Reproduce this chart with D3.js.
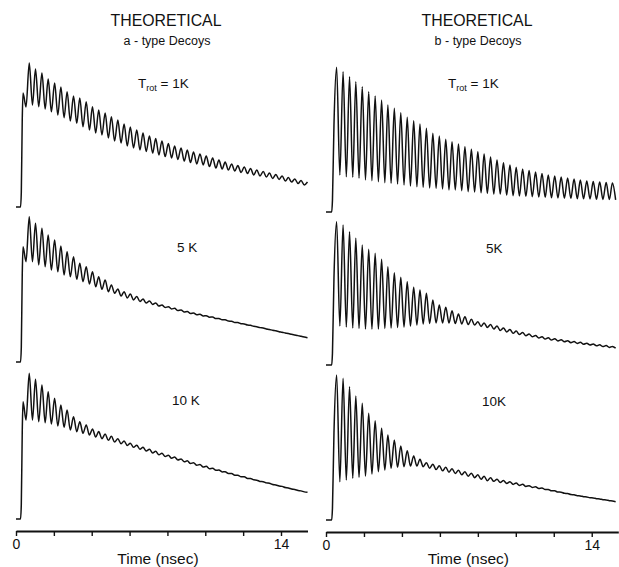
<!DOCTYPE html>
<html>
<head>
<meta charset="utf-8">
<script src="https://cdn.jsdelivr.net/npm/d3@7"></script>
<style>
  body { margin: 0; background: #fff; }
  svg { display: block; }
  text { font-family: "Liberation Sans", Arial, sans-serif; fill: #111; }
</style>
</head>
<body>
<svg id="fig" width="619" height="567"></svg>
<script>
// ---- Time grid of the recurrence maxima / minima (ns) ----
const aPeakT = [0.70,1.03,1.37,1.70,2.04,2.37,2.70,3.04,3.37,3.71,4.04,4.37,4.71,5.04,5.38,5.71,6.04,6.38,6.71,7.05,7.38,7.71,8.05,8.38,8.72,9.05,9.38,9.72,10.05,10.39,10.72,11.05,11.39,11.72,12.06,12.39,12.72,13.06,13.39,13.73,14.06,14.39,14.73,15.06,15.40];
const aDipT  = [0.53,0.87,1.20,1.54,1.87,2.21,2.54,2.87,3.21,3.54,3.88,4.21,4.54,4.88,5.21,5.55,5.88,6.21,6.55,6.88,7.22,7.55,7.88,8.22,8.55,8.89,9.22,9.55,9.89,10.22,10.56,10.89,11.22,11.56,11.89,12.23,12.56,12.89,13.23,13.56,13.90,14.23,14.56,14.90,15.23];
const bPeakT = [0.56,0.90,1.24,1.57,1.91,2.25,2.59,2.93,3.26,3.60,3.94,4.28,4.62,4.95,5.29,5.63,5.97,6.31,6.64,6.98,7.32,7.66,8.00,8.33,8.67,9.01,9.35,9.69,10.02,10.36,10.70,11.04,11.38,11.71,12.05,12.39,12.73,13.07,13.40,13.74,14.08,14.42,14.76,15.09];
const bDipT  = [0.73,1.07,1.41,1.74,2.08,2.42,2.76,3.10,3.43,3.77,4.11,4.45,4.79,5.12,5.46,5.80,6.14,6.48,6.81,7.15,7.49,7.83,8.17,8.50,8.84,9.18,9.52,9.86,10.19,10.53,10.87,11.21,11.55,11.88,12.22,12.56,12.90,13.24,13.57,13.91,14.25,14.59,14.93,15.26];

// ---- Onset (laser excitation rise) ----
const aRiseT = [0, 0.24, 0.28, 0.33, 0.37];
const bRiseT = [0, 0.30, 0.34, 0.42];

// ---- a-type decays: intensity at maxima (hi) and minima (lo) ----
const a1Rise = [0, 0, 10, 60, 78.6];
const a1Hi = [99.3,95.2,92.4,88.3,85.5,82.8,79.5,76.6,75.2,72.6,69.2,66.9,64.8,62.3,60,57.2,55.2,53.1,51,49,47.2,45.5,43.8,42.1,40.7,39.3,37.9,36.6,35.2,33.8,32.4,31,29.7,28.6,27.6,26.6,25.5,24.5,23.4,22.4,21.4,20.3,19.3,18.3,17.2];
const a1Lo = [69,70.3,69.2,67.6,65.7,63.4,61.6,59.3,57.7,55.4,53.1,51,49.7,47.6,45.5,44.1,42.1,40.7,39.3,38.3,37.2,35.9,34.8,33.8,32.8,31.7,30.7,29.7,29,27.9,26.9,26.2,25.5,24.8,23.8,23.1,22.1,21.4,20.7,19.7,19,17.9,17.2,16.2,15.2];

const a2Rise = [0, 0, 10, 60, 79.5];
const a2Hi = [100.2,95.7,92.2,87.6,84.1,80,76.1,72.6,68.1,65.7,62.3,58.8,56.6,53.1,50.3,48.5,46.9,45.2,43.4,42.1,40.7,39.3,38.1,37,35.9,34.8,33.8,32.9,31.95,31.0,30.05,29.1,28.15,27.2,26.25,25.3,24.35,23.4,22.45,21.5,20.55,19.6,18.65,17.7,16.75];
const a2Lo = [69.2,69.2,66.9,65.7,63.4,62.3,60,58.8,57,55.4,53.8,51.9,50.1,48.5,47.4,45.5,44.1,42.8,41.7,40.7,39.7,38.6,37.6,36.6,35.5,34.5,33.4,32.6,31.7,30.9,30.0,29.1,28.2,27.3,26.4,25.5,24.6,23.7,22.8,21.9,20.9,20.0,19.1,18.2,17.2];

const a3Rise = [0, 0, 10, 60, 80.9];
const a3Hi = [100.5,96.3,92.4,87.8,83.2,78.6,75.2,70.6,67.1,64.8,62.1,60.3,58.6,57,55.3,53.8,52.3,50.9,49.5,48.1,46.7,45.4,44,42.7,41.4,40.1,38.8,37.6,36.3,35,33.8,32.6,31.4,30.2,29.1,27.9,26.8,25.7,24.6,23.5,22.5,21.4,20.4,19.4,18.4];
const a3Lo = [68.3,68.3,67.1,66.4,65.5,64.1,63.2,61.4,60.2,59.1,57.9,56.5,55.4,54.3,53.1,51.9,50.7,49.4,48.1,46.9,45.6,44.3,43.1,41.9,40.7,39.4,38.2,37,35.8,34.7,33.6,32.5,31.3,30.2,29.1,28,27,25.9,24.9,23.8,22.8,21.7,20.7,19.7,18.7];

// ---- b-type decays ----
const b1Rise = [0, 0, 8, 60];
const b1Hi = [99.8,96.8,93.3,89.9,86.4,83,80,77.2,73.8,71.5,68.5,65.3,63,60.7,57.7,54.3,52.4,50.1,48.5,46.9,45,43.2,41.6,40,37.9,35.9,34,32.4,30.8,29.7,28.6,27.6,26.6,25.5,24.8,24.1,23.4,22.8,22.1,21.4,21,20.7,20.3,20];
const b1Lo = [25.5,24.3,23.9,23.2,22.1,21.6,20.9,20.2,19.8,19.3,18.6,17.9,17.4,17,16.6,16.3,15.9,15.2,15.2,14.7,14,13.8,13.3,12.9,12.4,12.4,11.7,11.2,11,10.8,10.6,10.3,10.1,9.9,9.7,9.5,9.4,9.2,9.1,9,8.8,8.7,8.6,8.4];

const b2Rise = [0, 0, 8, 60];
const b2Hi = [98.8,96.6,91.9,87.4,82.8,79.8,77,72.9,67.8,63.7,60.5,57.4,53.6,51.7,49.4,44.8,41.4,39.8,37.4,35.2,33.3,31.5,29.9,29,27.9,26.9,25.5,24.5,23.4,22.4,21.4,20.3,19.5,18.8,18.1,17.4,16.8,16.2,15.7,15,14.5,13.9,13.4,12.8];
const b2Lo = [26.9,26.2,25.5,25.2,24.8,24.8,24.8,25.2,25.5,25.9,26.2,26.9,27.6,28.3,28.6,29,29,29,28.6,28.3,27.9,27.6,26.6,25.9,24.8,23.8,22.8,21.9,21,20.2,19.4,18.6,17.9,17.2,16.6,16,15.4,14.9,14.3,13.8,13.2,12.7,12.1,11.6];

const b3Rise = [0, 0, 8, 60];
const b3Hi = [100,97.7,91.9,85.5,80.5,73.6,68.5,63.2,58.6,55.2,51,47.8,44.1,41.9,39.5,38.5,37.4,36.4,35.4,34.3,33.3,32.3,31.2,30.2,29.2,28.1,27.2,26.4,25.5,24.6,23.7,22.9,22.1,21.1,20.1,19.2,18.3,17.4,16.6,15.9,15.2,14.5,13.8,13.1];
const b3Lo = [26.4,27.6,28.8,29.4,30.3,31.7,33.3,34.5,35.7,36.3,36.8,37.2,37.2,36.8,35.7,34.8,33.9,33,32.1,31.2,30.2,29.2,28.1,27.1,26.65,25.85,25.2,24.55,23.85,23.15,22.45,21.8,21.0,20.1,19.25,18.4,17.55,16.75,16.05,15.35,14.7,14.0,13.35,12.65];

// ---- Axis ----
const axisTicks = [0, 2, 4, 6, 8, 10, 12, 14];
const labelledTicks = [0, 14];
const timeMax = 15.4;

// ---- Layout ----
const columns = [
  { title: "THEORETICAL", sub: "a - type Decoys", cx: 166, left: 16, right: 307.5, axisY: 531,
    riseT: aRiseT, peakT: aPeakT, dipT: aDipT },
  { title: "THEORETICAL", sub: "b - type Decoys", cx: 477, left: 326, right: 618.3, axisY: 532,
    riseT: bRiseT, peakT: bPeakT, dipT: bDipT }
];

const panels = [
  { col: 0, base: 207, rise: a1Rise, hi: a1Hi, lo: a1Lo, label: "trot", lx: 138, ly: 88 },
  { col: 0, base: 362, rise: a2Rise, hi: a2Hi, lo: a2Lo, label: "5 K", lx: 177, ly: 252 },
  { col: 0, base: 519, rise: a3Rise, hi: a3Hi, lo: a3Lo, label: "10 K", lx: 172, ly: 405 },
  { col: 1, base: 212, rise: b1Rise, hi: b1Hi, lo: b1Lo, label: "trot", lx: 448, ly: 88 },
  { col: 1, base: 365, rise: b2Rise, hi: b2Hi, lo: b2Lo, label: "5K", lx: 486, ly: 253 },
  { col: 1, base: 520, rise: b3Rise, hi: b3Hi, lo: b3Lo, label: "10K", lx: 482, ly: 406 }
];

const svg = d3.select("#fig");
const panelHeight = 145;

columns.forEach(c => {
  c.x = d3.scaleLinear().domain([0, timeMax]).range([c.left, c.right]);

  svg.append("text").attr("x", c.cx).attr("y", 26)
    .attr("text-anchor", "middle").attr("font-size", 17)
    .attr("textLength", 111).attr("lengthAdjust", "spacingAndGlyphs")
    .text(c.title);
  svg.append("text").attr("x", c.cx + 1).attr("y", 45)
    .attr("text-anchor", "middle").attr("font-size", 12.5)
    .text(c.sub);

  const axis = d3.axisBottom(c.x)
    .tickValues(axisTicks)
    .tickSize(5)
    .tickSizeOuter(0)
    .tickPadding(3)
    .tickFormat(d => labelledTicks.includes(d) ? String(d) : "");
  const g = svg.append("g").attr("transform", `translate(0,${c.axisY})`).call(axis);
  g.select(".domain").attr("stroke", "#111").attr("stroke-width", 2);
  g.selectAll(".tick line").attr("stroke", "#111").attr("stroke-width", 1.4);
  g.selectAll(".tick text").attr("font-size", 14).attr("fill", "#111")
    .attr("font-family", "'Liberation Sans', Arial, sans-serif");

  svg.append("text").attr("x", c.x(7.5)).attr("y", 564)
    .attr("text-anchor", "middle").attr("font-size", 15.5)
    .text("Time (nsec)");
});

const line = d3.line()
  .x(d => d.xs(d.t))
  .y(d => d.ys(d.v))
  .curve(d3.curveMonotoneX);

panels.forEach(p => {
  const c = columns[p.col];
  const y = d3.scaleLinear().domain([0, 100]).range([p.base, p.base - panelHeight]);
  const pts = [];
  c.riseT.forEach((t, i) => pts.push({ t, v: p.rise[i] }));
  c.dipT.forEach((t, i) => pts.push({ t, v: p.lo[i] }));
  c.peakT.forEach((t, i) => pts.push({ t, v: p.hi[i] }));
  pts.sort((a, b) => a.t - b.t);
  pts.forEach(d => { d.xs = c.x; d.ys = y; });

  svg.append("path").datum(pts)
    .attr("d", line)
    .attr("fill", "none")
    .attr("stroke", "#111")
    .attr("stroke-width", 1.5)
    .attr("stroke-linejoin", "round");

  const t = svg.append("text").attr("x", p.lx).attr("y", p.ly).attr("font-size", 13.5);
  if (p.label === "trot") {
    t.append("tspan").text("T");
    t.append("tspan").attr("font-size", 9).attr("dy", 3).text("rot");
    t.append("tspan").attr("dy", -3).text(" = 1K");
  } else {
    t.text(p.label);
  }
});
</script>
</body>
</html>
